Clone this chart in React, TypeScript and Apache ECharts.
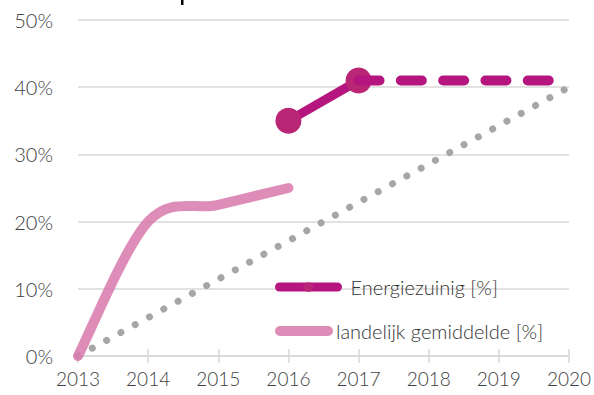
import React, { useEffect, useRef } from "react";
import * as echarts from "echarts";

// Years on the horizontal axis
const years = ["2013", "2014", "2015", "2016", "2017", "2018", "2019", "2020"];

// Measured share of energy-efficient (%), 2016–2017
const energiezuinig = [null, null, null, 35, 41, null, null, null];
// Continuation at the 2017 level through 2020
const energiezuinigVervolg = [null, null, null, null, 41, 41, 41, 41];
// National average (%)
const landelijkGemiddelde = [0, 20, 22.5, 25, null, null, null, null];
// Straight path from 0% in 2013 to 40% in 2020
const doelpad = [0, null, null, null, null, null, null, 40];

const yTicks = { min: 0, max: 50, interval: 10 };

const FONT = "Lato";
const GRID = "#d9d9d9";
const MAGENTA = "#b5157f";
const MAGENTA_DOT = "#ba2676";
const PINK = "#d779ab";
const GREY = "#a6a6a6";
const TEXT = "#404040";

// Stadium-shaped legend icon (a thick line with round ends)
const ROUND_LINE_ICON = "path://M5,0 H53 A5,5 0 0 1 53,10 H5 A5,5 0 0 1 5,0 Z";

const gemiddeldePunten = landelijkGemiddelde
  .map((v, i) => (v === null ? null : [i, v]))
  .filter((p): p is number[] => p !== null);

// Smooth curve through the points (Catmull-Rom converted to cubic Béziers)
function smoothPath(pts: number[][]): string {
  if (pts.length === 0) return "";
  let d = `M${pts[0][0]},${pts[0][1]}`;
  for (let i = 0; i < pts.length - 1; i++) {
    const p0 = pts[i - 1] || pts[i];
    const p1 = pts[i];
    const p2 = pts[i + 1];
    const p3 = pts[i + 2] || p2;
    const c1x = p1[0] + (p2[0] - p0[0]) / 6;
    const c1y = p1[1] + (p2[1] - p0[1]) / 6;
    const c2x = p2[0] - (p3[0] - p1[0]) / 6;
    const c2y = p2[1] - (p3[1] - p1[1]) / 6;
    d += ` C${c1x},${c1y} ${c2x},${c2y} ${p2[0]},${p2[1]}`;
  }
  return d;
}

export default function App() {
  const ref = useRef<HTMLDivElement>(null);

  useEffect(() => {
    if (!ref.current) return;
    const chart = echarts.init(ref.current, undefined, { renderer: "svg" });

    const legendText = {
      fontFamily: FONT,
      fontWeight: 300,
      fontSize: 20,
      color: "#333333",
      lineHeight: 20,
    };

    chart.setOption({
      animation: false,
      backgroundColor: "#ffffff",
      textStyle: { fontFamily: FONT },
      grid: { left: 78, right: 22, top: 20, bottom: 39, containLabel: false },
      graphic: [
        {
          type: "rect",
          shape: { x: 181, y: 0, width: 2.5, height: 5 },
          style: { fill: "#000000" },
        },
      ],
      legend: [
        {
          data: ["Energiezuinig [%]"],
          left: 275,
          top: 277,
          padding: 0,
          itemWidth: 58,
          itemHeight: 12,
          lineStyle: { width: 9, cap: "round" },
          textStyle: { ...legendText, padding: [0, 0, 0, 8] },
        },
        {
          data: [{ name: "landelijk gemiddelde [%]", icon: ROUND_LINE_ICON }],
          left: 275,
          top: 321,
          padding: 0,
          itemWidth: 58,
          itemHeight: 10,
          textStyle: { ...legendText, padding: [0, 0, 0, -2] },
        },
      ],
      xAxis: [
        {
          type: "category",
          data: years,
          boundaryGap: false,
          position: "bottom",
          axisLine: { lineStyle: { color: GRID, width: 1.5 } },
          axisTick: { show: true, length: 7, lineStyle: { color: GRID, width: 1.5 } },
          axisLabel: {
            margin: 13,
            fontFamily: FONT,
            fontWeight: 300,
            fontSize: 19,
            color: TEXT,
          },
          splitLine: { show: false },
        },
        {
          type: "category",
          data: years,
          boundaryGap: false,
          position: "bottom",
          offset: 0,
          axisLine: { show: false },
          axisTick: { show: true, inside: true, length: 7, lineStyle: { color: GRID, width: 1.5 } },
          axisLabel: { show: false },
          splitLine: { show: false },
        },
      ],
      yAxis: {
        type: "value",
        min: yTicks.min,
        max: yTicks.max,
        interval: yTicks.interval,
        axisLine: { show: false },
        axisTick: { show: false },
        axisLabel: {
          formatter: "{value}%",
          margin: 25,
          fontFamily: FONT,
          fontWeight: 300,
          fontSize: 20,
          color: TEXT,
        },
        splitLine: { lineStyle: { color: GRID, width: 1.5 } },
      },
      series: [
        {
          name: "doelpad",
          type: "line",
          data: doelpad,
          connectNulls: true,
          symbol: "none",
          clip: false,
          lineStyle: { color: GREY, width: 7, type: [0.01, 16.29], cap: "round" },
          z: 2,
        },
        {
          name: "landelijk gemiddelde [%]",
          type: "custom",
          data: gemiddeldePunten,
          encode: { x: 0, y: 1 },
          itemStyle: { color: PINK, opacity: 0.85 },
          renderItem: (params: any, api: any) => {
            if (params.dataIndex !== 0) return null;
            const pts = gemiddeldePunten.map((p) => api.coord(p));
            return {
              type: "path",
              shape: { pathData: smoothPath(pts) },
              style: {
                fill: "none",
                stroke: PINK,
                lineWidth: 10,
                opacity: 0.85,
                lineCap: "round",
                lineJoin: "round",
              },
            };
          },
          z: 3,
        },
        {
          name: "Energiezuinig [%]",
          type: "line",
          data: energiezuinig,
          symbol: "circle",
          symbolSize: 26,
          clip: false,
          itemStyle: { color: MAGENTA_DOT },
          lineStyle: { color: MAGENTA, width: 9, cap: "round" },
          z: 4,
        },
        {
          name: "Energiezuinig vervolg",
          type: "line",
          data: energiezuinigVervolg,
          symbol: "none",
          clip: false,
          lineStyle: { color: MAGENTA, width: 10, type: [21, 21.3], cap: "round" },
          z: 5,
        },
      ],
    });

    return () => chart.dispose();
  }, []);

  return <div ref={ref} style={{ width: 594, height: 395, position: "fixed", left: 0, top: 0 }} />;
}
